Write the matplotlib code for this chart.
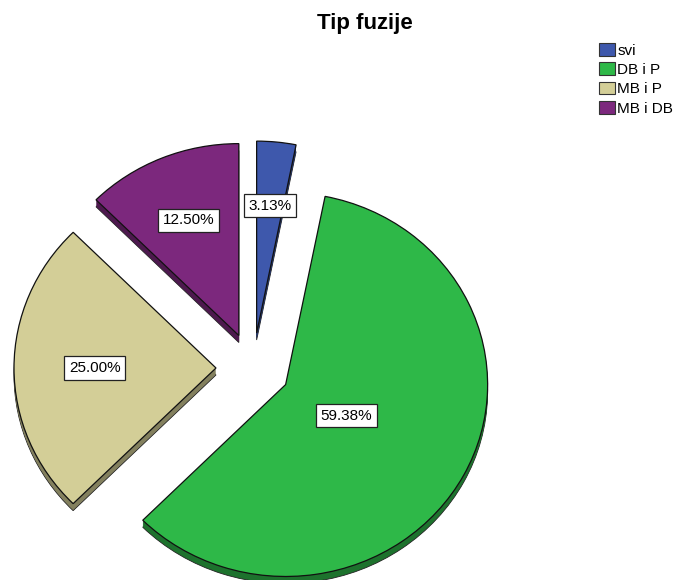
import numpy as np
import matplotlib
matplotlib.use('Agg')
import matplotlib.pyplot as plt
from matplotlib.patches import Patch
from matplotlib.colors import to_rgb

# Podaci
kategorije = ['svi', 'DB i P', 'MB i P', 'MB i DB']
postoci = [3.13, 59.38, 25.00, 12.50]
boje = ['#3E58AC', '#2EB848', '#D3CE97', '#7C287D']

W, H = 678, 580
SPLJOST = 0.95       # vertikalno sabijanje (nagnuta pita)
R = 202              # polumjer u pikselima
CX, CY = 253, 368    # središte pite (pikseli, y prema dolje)
RAZMAK = 37          # odmak isječaka od središta
DUBINA = 7           # debljina "3D" ruba

fig = plt.figure(figsize=(W / 100, H / 100), dpi=100)
ax = fig.add_axes([0, 0, 1, 1])

def u_podatke(py):
    return (H - py) / SPLJOST

centar = (CX, u_podatke(CY))
explode = [RAZMAK] * len(postoci)
tamne = [tuple(c * 0.62 for c in to_rgb(b)) for b in boje]

# bočni rub: nekoliko tamnih kopija pomaknutih prema dolje
for k in range(DUBINA, 0, -1):
    ax.pie(postoci, colors=tamne, radius=R, explode=explode,
           center=(centar[0], centar[1] - k / SPLJOST),
           startangle=90, counterclock=False,
           wedgeprops=dict(linewidth=0.6 if k == DUBINA else 0,
                           edgecolor='#222222'))

# gornja ploha
ax.pie(postoci, colors=boje, radius=R, explode=explode, center=centar,
       startangle=90, counterclock=False,
       wedgeprops=dict(linewidth=0.9, edgecolor='#111111'))

# oznake postotaka u težištu svakog isječka
ukupno = sum(postoci)
theta1 = 90.0
for v in postoci:
    frac = v / ukupno
    theta2 = theta1 - 360 * frac
    sred = np.deg2rad((theta1 + theta2) / 2)
    alfa = np.pi * frac
    d = 2 * R * np.sin(alfa) / (3 * alfa)
    x = centar[0] + (RAZMAK + d) * np.cos(sred)
    y = centar[1] + (RAZMAK + d) * np.sin(sred)
    ax.text(x, y, f'{v:.2f}%', ha='center', va='center', fontsize=11,
            family='Liberation Sans',
            bbox=dict(boxstyle='square,pad=0.3', facecolor='white',
                      edgecolor='#222222', linewidth=0.9))
    theta1 = theta2

ax.set_aspect('auto')
ax.set_xlim(0, W)
ax.set_ylim(0, H / SPLJOST)
ax.axis('off')

fig.text(365 / W, 1 - 23 / H, 'Tip fuzije', ha='center', va='center',
         fontsize=16, fontweight='bold', family='Liberation Sans')

rucke = [Patch(facecolor=b, edgecolor='#333333', linewidth=0.8) for b in boje]
fig.legend(rucke, kategorije, loc='upper left',
           bbox_to_anchor=(599 / W, 1 - 43 / H), frameon=False,
           prop=dict(family='Liberation Sans', size=11),
           handlelength=1.05, handleheight=0.92, handletextpad=0.15,
           labelspacing=0.3, borderpad=0, borderaxespad=0)

plt.savefig('out.png', dpi=100)
